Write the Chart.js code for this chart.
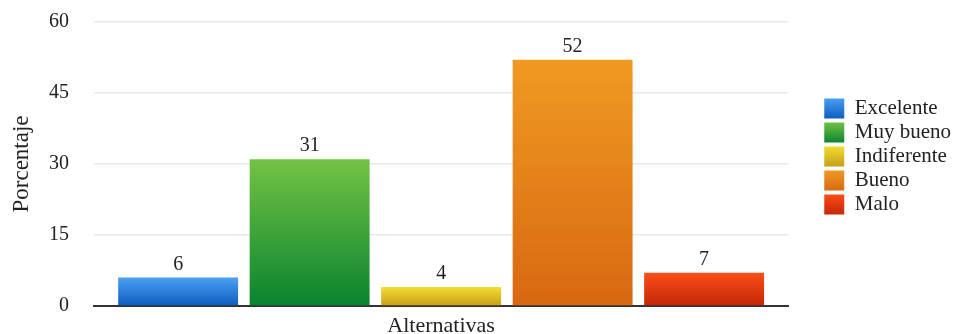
<!DOCTYPE html>
<html>
<head>
<meta charset="utf-8">
<script src="https://cdn.jsdelivr.net/npm/chart.js@4"></script>
<style>
  html, body { margin: 0; padding: 0; background: #fff; overflow: hidden; }
  #wrap { width: 962px; height: 334px; }
</style>
</head>
<body>
<div id="wrap"><canvas id="chart" width="962" height="334"></canvas></div>
<script>
/* --- datos ------------------------------------------------------ */
const categorias = ['Alternativas'];
const opciones   = ['Excelente', 'Muy bueno', 'Indiferente', 'Bueno', 'Malo'];
const porcentaje = [6, 31, 4, 52, 7];
const ejeY       = { min: 0, max: 60, paso: 15 };

/* degradado (arriba, abajo) de cada barra */
const tonos = [
  ['#4ba0f2', '#0b5cc0'],
  ['#74c244', '#08842e'],
  ['#f2de32', '#c69e16'],
  ['#f09a22', '#d86812'],
  ['#fa4e1a', '#c42604'],
];

const TXT = '#222';
Chart.defaults.font.family = '"Liberation Serif", "Times New Roman", serif';
Chart.defaults.color = TXT;

const degradado = (ctx, y0, y1, i) => {
  const g = ctx.createLinearGradient(0, y0, 0, y1);
  g.addColorStop(0, tonos[i][0]);
  g.addColorStop(1, tonos[i][1]);
  return g;
};

/* relleno de cada barra: degradado sobre su propia altura */
function rellenoBarra(c) {
  const { chart, datasetIndex, raw } = c;
  if (!chart.chartArea || raw === undefined) return tonos[datasetIndex][1];
  const y = chart.scales.y;
  return degradado(chart.ctx, y.getPixelForValue(raw), y.getPixelForValue(0), datasetIndex);
}

/* cajas de la leyenda con el mismo degradado */
const leyendaDegradado = {
  id: 'leyendaDegradado',
  beforeDraw(chart) {
    const lg = chart.legend;
    if (!lg || !lg.legendHitBoxes) return;
    lg.legendItems.forEach((it, i) => {
      const hb = lg.legendHitBoxes[i];
      if (hb) it.fillStyle = degradado(chart.ctx, hb.top, hb.top + 21, it.datasetIndex);
    });
  }
};

/* valor encima de cada barra */
const valores = {
  id: 'valores',
  afterDatasetsDraw(chart) {
    const ctx = chart.ctx;
    ctx.save();
    ctx.font = '20px "Liberation Serif", serif';
    ctx.fillStyle = TXT;
    ctx.textAlign = 'center';
    ctx.textBaseline = 'alphabetic';
    chart.data.datasets.forEach((ds, i) => {
      const meta = chart.getDatasetMeta(i);
      meta.data.forEach((bar, j) => {
        ctx.fillText(String(ds.data[j]), bar.x, bar.y - 8);
      });
    });
    ctx.restore();
  }
};

new Chart(document.getElementById('chart'), {
  type: 'bar',
  data: {
    labels: categorias,
    datasets: opciones.map((nombre, i) => ({
      label: nombre,
      data: [porcentaje[i]],
      backgroundColor: rellenoBarra,
      borderWidth: 0,
      categoryPercentage: 0.947,
      barPercentage: 0.912,
    }))
  },
  options: {
    responsive: false,
    devicePixelRatio: 1,
    animation: false,
    events: [],
    layout: { padding: { top: 22, right: 1, bottom: 0, left: 0 } },
    plugins: {
      tooltip: { enabled: false },
      legend: {
        position: 'right',
        align: 'start',
        title: { display: true, text: '', font: { size: 12, lineHeight: 1 }, padding: { top: 61, bottom: 0 } },
        labels: {
          boxWidth: 20, boxHeight: 20, padding: 3,
          color: TXT,
          font: { size: 21 }
        }
      }
    },
    scales: {
      x: {
        grid: { display: false, drawTicks: false },
        border: { display: true, color: '#333', width: 2 },
        ticks: { display: false },
        title: {
          display: true, text: categorias[0], color: TXT,
          font: { size: 22, lineHeight: 1 },
          padding: { top: 9, bottom: -3 }
        }
      },
      y: {
        min: ejeY.min, max: ejeY.max,
        grid: {
          color: '#e8e8e8', lineWidth: 1.5,
          drawTicks: true, tickLength: 25, tickColor: 'rgba(0,0,0,0)'
        },
        border: { display: false },
        ticks: { stepSize: ejeY.paso, padding: 0, color: TXT, font: { size: 20 } },
        title: {
          display: true, text: 'Porcentaje', color: TXT,
          font: { size: 23, lineHeight: 1.1 },
          padding: { top: 9, bottom: 0 }
        },
        afterFit: s => { s.width = 94; }
      },
      margen: {
        type: 'linear',
        position: 'right',
        grid: { display: false, drawTicks: false },
        border: { display: false },
        ticks: { display: false },
        afterFit: s => { s.width = 33; }
      }
    }
  },
  plugins: [leyendaDegradado, valores]
});
</script>
</body>
</html>
